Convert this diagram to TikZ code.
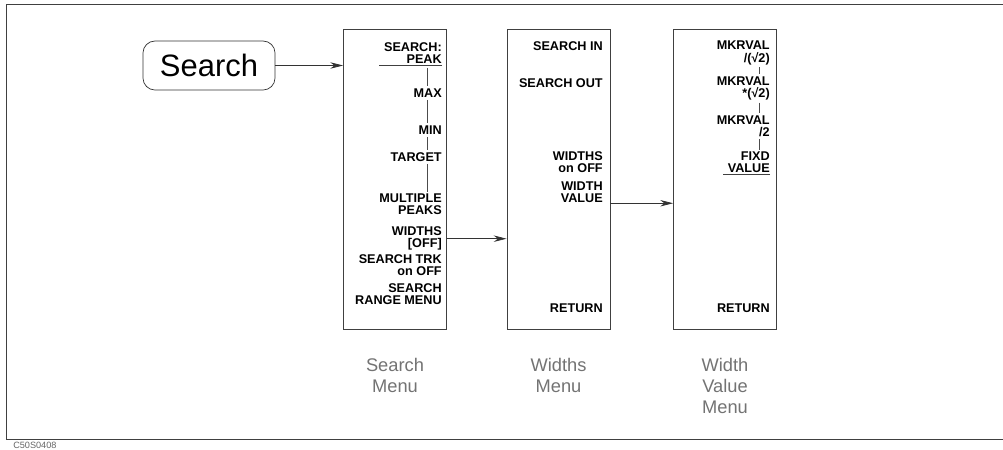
\documentclass[tikz,border=0pt]{standalone}
\usepackage{fontspec}
\setmainfont{Liberation Sans}
\usetikzlibrary{arrows.meta,positioning}

\tikzset{
  menubox/.style={draw=black!75, line width=0.6pt, minimum width=2.575cm, minimum height=7.5cm, inner sep=0},
  softkey/.style={anchor=east, align=right, inner sep=0, font=\bfseries\fontsize{9}{8.6}\selectfont},
  radio/.style={draw=black!70, line width=0.4pt, shorten <=1.5pt, shorten >=1.5pt},
  menulbl/.style={inner sep=0, align=center, text=black!55, font=\fontsize{13}{15}\selectfont},
  link/.style={draw=black!80, line width=0.5pt, -{Stealth[length=3.2mm,width=1.6mm]}},
}

\begin{document}
\begin{tikzpicture}[x=0.025cm, y=-0.025cm]
        \useasboundingbox (0,0) rectangle (1003,449);
        % frame
        \draw[black!75, line width=0.6pt] (1003,4) -- (6,4) -- (6,439) -- (1003,439);
        \node[anchor=west, inner sep=0, text=black!60, font=\fontsize{6.5}{6.5}\selectfont] (figid) at (13,445) {C50S0408};
        % hardkey
        \node[draw=black!80, line width=0.5pt, rounded corners=0.3cm, minimum width=3.3cm, minimum height=1.225cm, font=\fontsize{22}{22}\selectfont] (btn) at (209,65.5) {Search};
        % menus
        \node[menubox] (srchmenu) at (395,179) {};
        \node[menubox] (wdmenu) at (558.5,179) {};
        \node[menubox] (wvmenu) at (725,179) {};
        \node[menulbl, below=0.7cm of srchmenu] (srchlbl) {Search\\Menu};
        \node[menulbl, below=0.7cm of wdmenu] (wdlbl) {Widths\\Menu};
        \node[menulbl, below=0.7cm of wvmenu] (wvlbl) {Width\\Value\\Menu};
        % search menu keys
        \node[softkey] (kpeak) at (442,53.5) {SEARCH:\\PEAK};
        \node[softkey] (kmax) at (442,93) {MAX};
        \node[softkey] (kmin) at (442,130) {MIN};
        \node[softkey] (ktgt) at (442,157) {TARGET};
        \node[softkey] (kmult) at (442,204.5) {MULTIPLE\\PEAKS};
        \node[softkey] (kwoff) at (442,238.7) {WIDTHS\\{[OFF]}};
        \node[softkey] (ktrk) at (442,265.3) {SEARCH TRK\\on OFF};
        \node[softkey] (krange) at (442,294.3) {SEARCH\\RANGE MENU};
        % widths menu keys
        \node[softkey] (ksin) at (603,46) {SEARCH IN};
        \node[softkey] (ksout) at (603,83) {SEARCH OUT};
        \node[softkey] (kwon) at (603,162) {WIDTHS\\on OFF};
        \node[softkey] (kwval) at (603,192.5) {WIDTH\\VALUE};
        \node[softkey] (kwret) at (603,308) {RETURN};
        % width value menu keys
        \node[softkey] (kdiv) at (770,53) {MKRVAL\\/(√2)};
        \node[softkey] (kmul) at (770,88.5) {MKRVAL\\*(√2)};
        \node[softkey] (khalf) at (770,126) {MKRVAL\\/2};
        \node[softkey] (kfixd) at (770,162.5) {FIXD\\VALUE};
        \node[softkey] (kvret) at (770,308) {RETURN};
        % radio links
        \coordinate (srad) at (427,0);
        \coordinate (wrad) at (759,0);
        \draw[black!75, line width=0.5pt] ([yshift=-1pt]kpeak.south east) -- ++(-63,0);
        \draw[radio] ([yshift=-1pt]kpeak.south -| srad) -- (kmax.north -| srad);
        \draw[radio] (kmax.south -| srad) -- (kmin.north -| srad);
        \draw[radio] (kmin.south -| srad) -- (ktgt.north -| srad);
        \draw[radio] (ktgt.south -| srad) -- (kmult.north -| srad);
        \draw[black!75, line width=0.5pt] ([yshift=-1pt]kfixd.south east) -- ++(-47,0);
        \draw[radio] (kdiv.south -| wrad) -- (kmul.north -| wrad);
        \draw[radio] (kmul.south -| wrad) -- (khalf.north -| wrad);
        \draw[radio] (khalf.south -| wrad) -- (kfixd.north -| wrad);
        % arrows
        \draw[link] (btn.east) -- (btn.east -| srchmenu.west);
        \draw[link] (kwoff.east -| srchmenu.east) -- (kwoff.east -| wdmenu.west);
        \draw[link] (kwval.south -| wdmenu.east) -- (kwval.south -| wvmenu.west);
      \end{tikzpicture}
\end{document}
